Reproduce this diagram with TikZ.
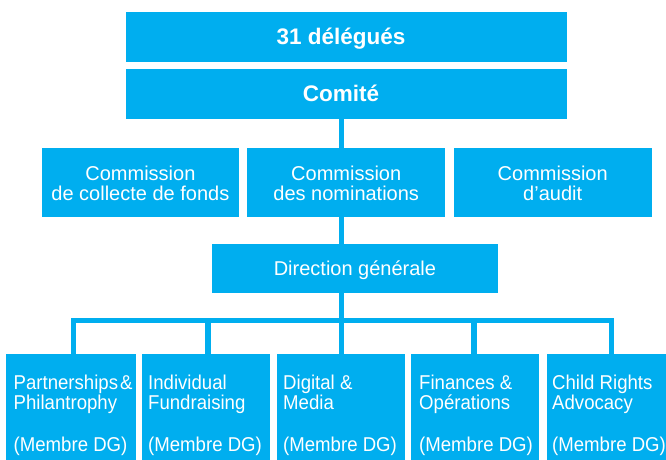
\documentclass[tikz,border=0pt]{standalone}
\usepackage{fontspec}
\setmainfont{Liberation Sans}
\newfontfamily\condfont[FakeStretch=0.93]{Liberation Sans}
\usetikzlibrary{backgrounds}
\definecolor{ublue}{HTML}{00AEEF}
\begin{document}
\begin{tikzpicture}[x=1pt,y=-1pt,
  box/.style={fill=ublue, draw=none, inner sep=0pt, anchor=north west},
  conn/.style={draw=ublue, line width=5.5pt},
  bigtxt/.style={text=white, font=\fontsize{22.5}{24}\selectfont\bfseries, anchor=base, inner sep=0pt},
  txt/.style={text=white, font=\fontsize{20}{22}\selectfont, anchor=base, inner sep=0pt},
  ltxt/.style={text=white, font=\condfont\fontsize{20}{22}\selectfont, anchor=base west, inner sep=0pt}]
\useasboundingbox (0,0) rectangle (666,460);
% boxes
\node[box, minimum width=441.5pt, minimum height=49.7pt] (del) at (125.5,12) {};
\node[box, minimum width=441.5pt, minimum height=49.7pt] (com) at (125.5,69) {};
\node[box, minimum width=197.6pt, minimum height=68.7pt] (c1) at (41.4,148) {};
\node[box, minimum width=198pt, minimum height=68.7pt] (c2) at (247,148) {};
\node[box, minimum width=198pt, minimum height=68.7pt] (c3) at (453.5,148) {};
\node[box, minimum width=285.5pt, minimum height=49pt] (dg) at (212,244) {};
\node[box, minimum width=130pt, minimum height=110pt] (p1) at (6,354) {};
\node[box, minimum width=128pt, minimum height=110pt] (p2) at (142,354) {};
\node[box, minimum width=128pt, minimum height=110pt] (p3) at (277,354) {};
\node[box, minimum width=128pt, minimum height=110pt] (p4) at (411,354) {};
\node[box, minimum width=125pt, minimum height=110pt] (p5) at (547,354) {};
% texts
\node[bigtxt] (t0) at ([xshift=-5.5pt,yshift=-33pt]del.north) {31 délégués};
\node[bigtxt] (t1) at ([xshift=-5.5pt,yshift=-32.3pt]com.north) {Comité};
\node[txt] (t2) at ([yshift=-32pt]c1.north) {Commission};
\node[txt] (t3) at ([yshift=-52pt]c1.north) {de collecte de fonds};
\node[txt] (t4) at ([yshift=-32pt]c2.north) {Commission};
\node[txt] (t5) at ([yshift=-52pt]c2.north) {des nominations};
\node[txt] (t6) at ([yshift=-32pt]c3.north) {Commission};
\node[txt] (t7) at ([yshift=-52pt]c3.north) {d’audit};
\node[txt] (t8) at ([yshift=-31pt]dg.north) {Direction générale};
\foreach \n/\dx/\a/\b in {p1/7.5/Partnerships\hspace{2pt}\&/Philantrophy, p2/6/Individual/Fundraising, p3/6/Digital \&/Media, p4/8/Finances \&/Opérations, p5/5/Child Rights/Advocacy}{
  \node[ltxt] (\n a) at ([xshift=\dx pt,yshift=-35.3pt]\n.north west) {\a};
  \node[ltxt] (\n b) at ([xshift=\dx pt,yshift=-55pt]\n.north west) {\b};
  \node[ltxt] (\n c) at ([xshift=\dx pt,yshift=-97.7pt]\n.north west) {(Membre DG)};
}
% connectors
\coordinate (spine) at (341.6,320.5);
\coordinate (d1) at (73.5,320.5);
\coordinate (d2) at (208,320.5);
\coordinate (d4) at (474,320.5);
\coordinate (d5) at (611.5,320.5);
\begin{scope}[on background layer]
\draw[conn] (com.south -| spine) -- (dg.north -| spine);
\draw[conn] (dg.south -| spine) -- (spine);
\draw[conn, line join=miter] (p1.north -| d1) -- (d1) -- (d5) -- (p5.north -| d5);
\draw[conn] (p2.north -| d2) -- (d2);
\draw[conn] (p3.north -| spine) -- (spine);
\draw[conn] (p4.north -| d4) -- (d4);
\end{scope}
\end{tikzpicture}
\end{document}
